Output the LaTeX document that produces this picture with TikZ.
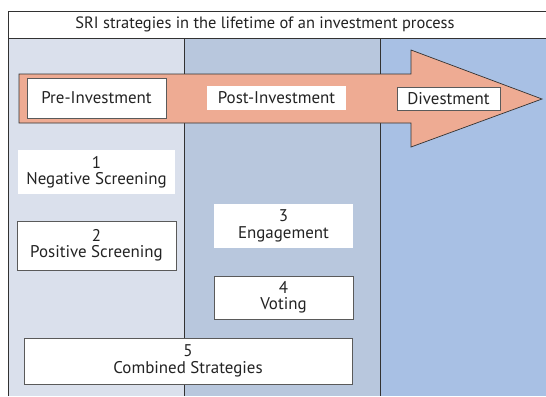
\documentclass[tikz,border=0pt]{standalone}
\usepackage{fontspec}
\setmainfont{PT Sans}
\definecolor{colA}{RGB}{218,224,236}
\definecolor{colB}{RGB}{184,199,221}
\definecolor{colC}{RGB}{168,192,228}
\definecolor{arrowfill}{RGB}{238,171,147}
\definecolor{linec}{RGB}{50,50,50}
\definecolor{boxline}{RGB}{90,90,90}
\definecolor{txt}{RGB}{35,35,35}
\begin{document}
\begin{tikzpicture}[x=1bp,y=-1bp,
  frame/.style={draw=linec,line width=0.9bp},
  labelbox/.style={fill=white,text=txt,inner sep=0pt,align=center,font=\fontsize{17}{16.5}\selectfont},
  boxed/.style={labelbox,draw=boxline,line width=0.8bp},
  plain/.style={labelbox}]
\useasboundingbox (0,0) rectangle (546,396);
% columns
\fill[colA] (8,38) rectangle (184,396);
\fill[colB] (184,38) rectangle (380,396);
\fill[colC] (380,38) rectangle (546,396);
\fill[white] (8,11) rectangle (546,38);
\draw[frame] (546,11) -- (8,11) -- (8,396);
\draw[frame] (8,38) -- (546,38);
\draw[frame] (184,38) -- (184,396);
\draw[frame] (380,38) -- (380,396);
\node[text=txt,font=\fontsize{16.5}{18}\selectfont] (title) at (265,24.5) {SRI strategies in the lifetime of an investment process};
% big arrow
\draw[fill=arrowfill,draw=linec,line width=0.7bp]
  (19,74) -- (411,74) -- (411,50) -- (542,99) -- (411,147) -- (411,123) -- (19,123) -- cycle;
\node[boxed,minimum width=139bp,minimum height=40bp] (pre) at (96.5,98) {Pre-Investment};
\node[plain,minimum width=139bp,minimum height=24bp] (post) at (276.5,98) {Post-Investment};
\node[boxed,minimum width=103bp,minimum height=23bp] (div) at (448.5,98.5) {Divestment};
% strategy boxes
\node[plain,minimum width=157bp,minimum height=44bp] (s1) at (96.5,172) {1\\Negative Screening};
\node[boxed,minimum width=159bp,minimum height=49bp] (s2) at (96.5,245.5) {2\\Positive Screening};
\node[plain,minimum width=139bp,minimum height=44bp] (s3) at (283.5,226) {3\\Engagement};
\node[boxed,minimum width=139bp,minimum height=43bp] (s4) at (283.5,297.5) {4\\Voting};
\node[boxed,minimum width=328bp,minimum height=46bp] (s5) at (188,361) {5\\Combined Strategies};
\end{tikzpicture}
\end{document}
